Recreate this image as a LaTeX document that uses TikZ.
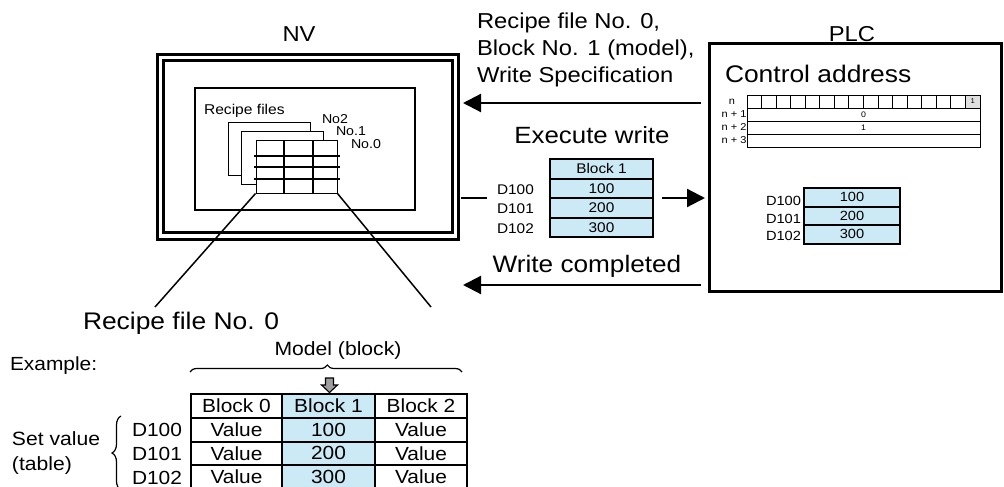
\documentclass[tikz,border=0pt]{standalone}
\usepackage{fontspec}
\setmainfont{Liberation Sans}[FakeStretch=1.1]
\usetikzlibrary{arrows.meta,decorations.pathreplacing}
\definecolor{lblue}{RGB}{204,234,245}
\newcommand\fsz[1]{\fontsize{#1pt}{#1pt}\selectfont}
\begin{document}
\begin{tikzpicture}[x=1pt,y=-1pt,
  txt/.style={inner sep=0pt,outer sep=0pt},
  frame/.style={draw,line width=3pt,inner sep=0pt},
  sheet/.style={draw,fill=white,line width=1pt,inner sep=0pt,minimum width=82pt,minimum height=53pt},
  midcell/.style={draw,line width=2pt,fill=lblue,inner sep=0pt,minimum width=103pt,minimum height=19.5pt,font=\fsz{14}},
  plccell/.style={draw,line width=2pt,fill=lblue,inner sep=0pt,minimum width=96pt,minimum height=18.5pt,font=\fsz{13.3}},
  regrow/.style={draw,line width=1pt,inner sep=0pt,minimum width=233pt,minimum height=13pt,font=\fsz{8}},
  botcell/.style={draw,line width=2pt,inner sep=0pt,minimum height=23.75pt,font=\fsz{19}},
  bigarrow/.style={line width=2.2pt,-{Triangle[length=18pt,width=18pt]}},
  grid/.style={line width=2pt},
  pointer/.style={line width=1.5pt},
]
\useasboundingbox (0,0) rectangle (1004,487);
\clip (0,0) rectangle (1004,487);

% ---------- NV ----------
\node[txt,anchor=base,font=\fsz{21.6}] (nvlabel) at (299,42) {NV};
\node[frame,minimum width=301pt,minimum height=184.5pt] (nvo) at (308,146.75) {};
\node[frame,minimum width=289pt,minimum height=172pt] (nvi) at (308,146.5) {};
\node[draw,line width=1.5pt,inner sep=0pt,minimum width=220pt,minimum height=122pt] (screen) at (305,149) {};
\node[txt,anchor=base west,font=\fsz{14.2}] (rfiles) at (204,114) {Recipe files};
\node[sheet] (s2) at (269,149) {};
\node[sheet] (s1) at (282,157.5) {};
\node[sheet,minimum width=81pt] (s0) at (296.5,166.5) {};
\draw[grid] (284,140) -- (284,193) (313,140) -- (313,193);
\draw[grid] (254,156) -- (340,156) (254,167) -- (340,167) (254,179) -- (340,179);
\node[txt,anchor=base west,font=\fsz{12.9}] (no2) at (322,123) {No2};
\node[txt,anchor=base west,font=\fsz{12.9}] (no1) at (336,135) {No.1};
\node[txt,anchor=base west,font=\fsz{12.9}] (no0) at (351,148) {No.0};

\coordinate (pl) at (155,307);
\coordinate (pr) at (431,307);
\draw[pointer] (s0.south west) -- (pl);
\draw[pointer] (s0.south east) -- (pr);
\node[txt,anchor=base west,font=\fsz{24}] (rf0) at (83,329) {Recipe file No. 0};

% ---------- PLC ----------
\node[txt,anchor=base,font=\fsz{21.6}] (plclabel) at (852,42) {PLC};
\node[frame,minimum width=292pt,minimum height=247.5pt] (plc) at (855.5,167.25) {};
\node[txt,anchor=base west,font=\fsz{24}] (ctrl) at (725,82) {Control address};
\foreach \i in {0,...,14}
  \draw[line width=1pt] ({747+\i*14.5625},95) rectangle ++(14.5625,13);
\node[draw,line width=1pt,fill=gray!25,inner sep=0pt,minimum width=14.5625pt,minimum height=13pt,font=\fsz{7}] (bit0) at ({747+15.5*14.5625},101.5) {1};
\node[regrow] (r1) at (863.5,114.5) {0};
\node[regrow] (r2) at (863.5,127.5) {1};
\node[regrow] (r3) at (863.5,140.5) {};
\node[txt,font=\fsz{10}] (ln) at (732,101.5) {n};
\node[txt,anchor=east,font=\fsz{10}] (ln1) at (r1.west) {n + 1};
\node[txt,anchor=east,font=\fsz{10}] (ln2) at (r2.west) {n + 2};
\node[txt,anchor=east,font=\fsz{10}] (ln3) at (r3.west) {n + 3};

\node[plccell] (p1) at (852,197.25) {100};
\node[plccell] (p2) at (852,215.75) {200};
\node[plccell] (p3) at (852,234.25) {300};
\node[txt,anchor=base east,font=\fsz{13.3}] (pd1) at (801,205) {D100};
\node[txt,anchor=base east,font=\fsz{13.3}] (pd2) at (801,223) {D101};
\node[txt,anchor=base east,font=\fsz{13.3}] (pd3) at (801,240.5) {D102};

% ---------- middle ----------
\node[txt,anchor=base west,font=\fsz{21.6}] (rt1) at (477,29) {Recipe file No. 0,};
\node[txt,anchor=base west,font=\fsz{21.6}] (rt2) at (477,55.5) {Block No. 1 (model),};
\node[txt,anchor=base west,font=\fsz{21.6}] (rt3) at (477,82) {Write Specification};
\draw[bigarrow,shorten <=7pt,shorten >=3pt] (plc.west |- 0,103) -- (nvo.east |- 0,103);

\node[txt,anchor=base,font=\fsz{23.5}] (exec) at (592,143) {Execute write};
\node[midcell] (m0) at (601.5,168.75) {Block 1};
\node[midcell] (m1) at (601.5,188.25) {100};
\node[midcell] (m2) at (601.5,207.75) {200};
\node[midcell] (m3) at (601.5,227.25) {300};
\node[txt,anchor=base west,font=\fsz{14}] (md1) at (497,194) {D100};
\node[txt,anchor=base west,font=\fsz{14}] (md2) at (497,213.5) {D101};
\node[txt,anchor=base west,font=\fsz{14}] (md3) at (497,233) {D102};
\coordinate (lend) at (487,198);
\coordinate (rstart) at (662,198);
\draw[line width=2.2pt,shorten <=1pt] (nvo.east |- lend) -- (lend);
\draw[bigarrow,shorten >=3pt] (rstart) -- (plc.west |- rstart);

\node[txt,anchor=base,font=\fsz{23.8}] (done) at (587,272) {Write completed};
\draw[bigarrow,shorten <=7pt,shorten >=3pt] (plc.west |- 0,285) -- (nvo.east |- 0,285);

% ---------- bottom example ----------
\node[txt,anchor=base west,font=\fsz{19}] (ex) at (10,370) {Example:};
\node[txt,anchor=base,font=\fsz{19.2}] (model) at (338,355) {Model (block)};
\draw[line width=1.2pt,decorate,decoration={brace,amplitude=7pt,aspect=0.505}] (190,372) -- (462,372);
\draw[fill=gray!75,line width=1.1pt,line join=miter] (325.5,378) -- (333.5,378) -- (333.5,385) -- (337.5,385) -- (329.5,392.5) -- (321.5,385) -- (325.5,385) -- cycle;

\node[botcell,minimum width=91pt] (b00) at (236.5,405.875) {Block 0};
\node[botcell,minimum width=93pt,fill=lblue] (b01) at (328.5,405.875) {Block 1};
\node[botcell,minimum width=92pt] (b02) at (421,405.875) {Block 2};
\node[botcell,minimum width=91pt] (b10) at (236.5,429.625) {Value};
\node[botcell,minimum width=93pt,fill=lblue] (b11) at (328.5,429.625) {100};
\node[botcell,minimum width=92pt] (b12) at (421,429.625) {Value};
\node[botcell,minimum width=91pt] (b20) at (236.5,453.375) {Value};
\node[botcell,minimum width=93pt,fill=lblue] (b21) at (328.5,453.375) {200};
\node[botcell,minimum width=92pt] (b22) at (421,453.375) {Value};
\node[botcell,minimum width=91pt] (b30) at (236.5,477.125) {Value};
\node[botcell,minimum width=93pt,fill=lblue] (b31) at (328.5,477.125) {300};
\node[botcell,minimum width=92pt] (b32) at (421,477.125) {Value};

\node[txt,anchor=base west,font=\fsz{19}] (bd1) at (132,436) {D100};
\node[txt,anchor=base west,font=\fsz{19}] (bd2) at (132,460) {D101};
\node[txt,anchor=base west,font=\fsz{19}] (bd3) at (132,484) {D102};
\draw[line width=1.2pt,decorate,decoration={brace,amplitude=9pt}] (121,490) -- (121,416);
\node[txt,anchor=base west,font=\fsz{19.2}] (sv1) at (12,445) {Set value};
\node[txt,anchor=base west,font=\fsz{19.2}] (sv2) at (12,470) {(table)};
\end{tikzpicture}
\end{document}
